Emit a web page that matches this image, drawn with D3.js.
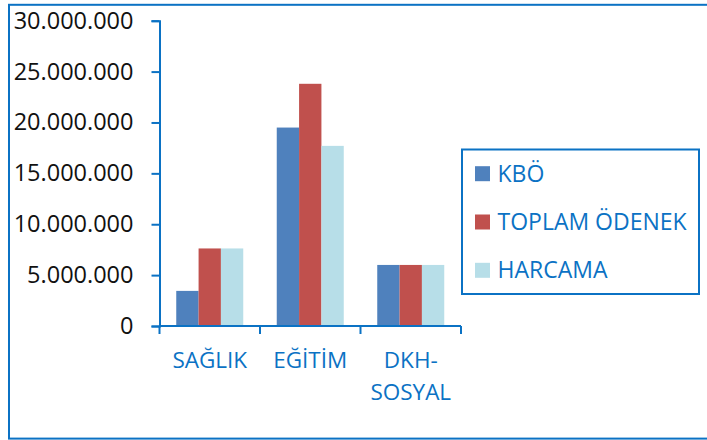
<!DOCTYPE html>
<html><head><meta charset="utf-8">
<script src="https://cdn.jsdelivr.net/npm/d3@7"></script>
<style>body{margin:0;background:#fff}svg{display:block}text{font-family:"Open Sans",sans-serif}</style>
</head><body><svg id="c" width="707" height="440"></svg>
<script>
const categories = ["SAĞLIK", "EĞİTİM", "DKH-\nSOSYAL"];
const seriesNames = ["KBÖ", "TOPLAM ÖDENEK", "HARCAMA"];
const kbo = [3450000, 19500000, 6000000];
const toplamOdenek = [7620000, 23800000, 6000000];
const harcama = [7620000, 17700000, 6000000];
const yTicks = [0, 5000000, 10000000, 15000000, 20000000, 25000000, 30000000];
const colors = ["#4F81BD", "#C0504D", "#B7DEE8"];

const values = [kbo, toplamOdenek, harcama];
const blue = "#0B72C4";
const svg = d3.select("#c");

// outer border
svg.append("rect").attr("x", 9).attr("y", 4.8).attr("width", 720).attr("height", 433.8)
  .attr("fill", "none").attr("stroke", blue).attr("stroke-width", 2);

const x0 = d3.scaleBand().domain(categories).range([159.5, 461]).paddingInner(1/3).paddingOuter(1/6);
const x1 = d3.scaleBand().domain(seriesNames).range([0, x0.bandwidth()]);
const y = d3.scaleLinear().domain([0, 30000000]).range([326, 20.7]);
const color = d3.scaleOrdinal().domain(seriesNames).range(colors);
const loc = d3.formatLocale({decimal: ",", thousands: ".", grouping: [3], currency: ["", ""]});
const fmt = loc.format(",d");

// bars
const g = svg.append("g");
categories.forEach((c, ci) => {
  seriesNames.forEach((s, si) => {
    const v = values[si][ci];
    g.append("rect")
      .attr("x", x0(c) + x1(s)).attr("y", y(v))
      .attr("width", x1.bandwidth()).attr("height", y(0) - y(v))
      .attr("fill", color(s));
  });
});

// y axis
const yAxis = d3.axisLeft(y).tickValues(yTicks).tickFormat(fmt).tickSize(8).tickPadding(18);
const ya = svg.append("g").attr("transform", "translate(159.5,0)").call(yAxis);
ya.select(".domain").attr("stroke", blue).attr("stroke-width", 2);
ya.selectAll(".tick line").attr("stroke", blue).attr("stroke-width", 2);
ya.selectAll(".tick text").attr("fill", "#111").attr("font-size", "23.5px").attr("dy", "0.32em");

// x axis
const step = x0.step();
const x0start = x0.range()[0];
const bounds = d3.range(categories.length + 1).map(i => x0start + i * step);
const xa = svg.append("g");
xa.append("line").attr("x1", bounds[0]).attr("x2", bounds[bounds.length - 1])
  .attr("y1", y(0)).attr("y2", y(0)).attr("stroke", blue).attr("stroke-width", 2);
xa.selectAll("line.t").data(bounds).join("line").attr("class", "t")
  .attr("x1", d => d).attr("x2", d => d).attr("y1", y(0)).attr("y2", y(0) + 8)
  .attr("stroke", blue).attr("stroke-width", 2);
categories.forEach(c => {
  const lines = c.split("\n");
  const t = xa.append("text").attr("text-anchor", "middle").attr("fill", blue)
    .attr("font-size", "22.5px").attr("x", x0(c) + x0.bandwidth() / 2).attr("y", y(0) + 42);
  lines.forEach((l, i) => t.append("tspan").attr("x", x0(c) + x0.bandwidth() / 2)
    .attr("dy", i === 0 ? 0 : 32).text(l));
});

// legend
const lg = svg.append("g");
lg.append("rect").attr("x", 462).attr("y", 149.5).attr("width", 237).attr("height", 144.5)
  .attr("fill", "#fff").attr("stroke", blue).attr("stroke-width", 2);
seriesNames.forEach((s, i) => {
  const cy = 173.7 + i * 48.3;
  lg.append("rect").attr("x", 475).attr("y", cy - 7.5).attr("width", 15).attr("height", 15).attr("fill", color(s));
  lg.append("text").attr("x", 497.5).attr("y", cy + 7.8).attr("fill", blue)
    .attr("font-size", "23px").text(s);
});
</script></body></html>
